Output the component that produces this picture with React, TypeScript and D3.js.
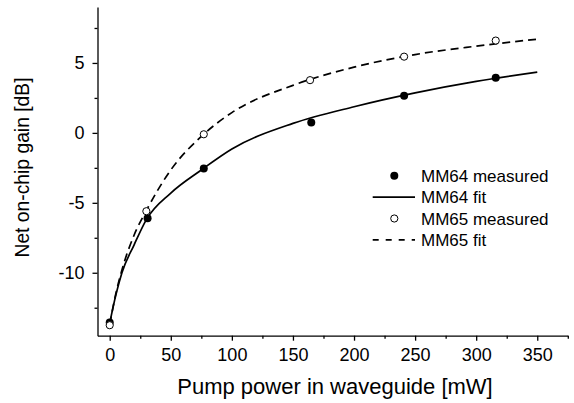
import { useEffect, useRef } from 'react';
import * as d3 from 'd3';

// measured points
const mm64Power = [0, 31, 77, 165, 241, 316];
const mm64Gain = [-13.55, -6.1, -2.55, 0.75, 2.65, 3.95];
const mm65Power = [0, 30, 77, 164, 241, 316];
const mm65Gain = [-13.75, -5.6, -0.1, 3.77, 5.45, 6.6];

// fit curves
const fitPower = [0, 5, 10, 20, 30, 50, 75, 100, 150, 200, 250, 300, 350];
const mm64Fit = [-13.6, -11.6, -10.0, -8.0, -6.2, -4.3, -2.65, -1.15, 0.68, 1.87, 2.86, 3.68, 4.34];
const mm65Fit = [-13.7, -11.5, -9.8, -7.3, -5.55, -2.65, -0.25, 1.45, 3.4, 4.7, 5.6, 6.2, 6.7];

const xTicks = [0, 50, 100, 150, 200, 250, 300, 350];
const yTicks = [-10, -5, 0, 5];

const legendLabels = ['MM64 measured', 'MM64 fit', 'MM65 measured', 'MM65 fit'];

const FONT = '"Liberation Sans", Arial, sans-serif';

const App = () => {
    const svgRef = useRef<SVGSVGElement>(null);

    useEffect(() => {
        const svg = d3.select(svgRef.current);
        svg.selectAll('*').remove();

        const x = d3.scaleLinear().domain([-10, 375]).range([97.5, 567.8]);
        const y = d3.scaleLinear().domain([-14.5, 9]).range([335.7, 7]);

        // Axes (plain hyphen for minus, like the original)
        const xAxis = svg.append('g')
            .attr('transform', `translate(0,${y(-14.5)})`)
            .call(d3.axisBottom(x).tickValues(xTicks).tickSize(5).tickSizeOuter(0).tickPadding(8)
                .tickFormat(d => String(d)));
        xAxis.append('g')
            .call(d3.axisBottom(x).tickValues(d3.range(25, 376, 50)).tickSize(3).tickFormat(() => '').tickSizeOuter(0))
            .select('.domain').remove();

        const yAxis = svg.append('g')
            .attr('transform', `translate(${x(-10)},0)`)
            .call(d3.axisLeft(y).tickValues(yTicks).tickSize(5).tickSizeOuter(0).tickPadding(8)
                .tickFormat(d => String(d)));
        yAxis.append('g')
            .call(d3.axisLeft(y).tickValues([-12.5, -7.5, -2.5, 2.5, 7.5]).tickSize(3).tickFormat(() => '').tickSizeOuter(0))
            .select('.domain').remove();

        svg.selectAll('.domain, .tick line').attr('stroke', '#000').attr('stroke-width', 1.3);
        svg.selectAll('.tick text')
            .attr('fill', '#000')
            .style('font-family', FONT)
            .style('font-size', '18px');

        // Axis titles
        svg.append('text')
            .attr('x', 335)
            .attr('y', 394)
            .attr('text-anchor', 'middle')
            .style('font-family', FONT)
            .style('font-size', '22px')
            .attr('fill', '#000')
            .text('Pump power in waveguide [mW]');

        svg.append('text')
            .attr('transform', 'translate(29,167.5) rotate(-90)')
            .attr('text-anchor', 'middle')
            .style('font-family', FONT)
            .style('font-size', '19.3px')
            .attr('fill', '#000')
            .text('Net on-chip gain [dB]');

        // Fit lines
        const line = d3.line<[number, number]>()
            .x(d => x(d[0]))
            .y(d => y(d[1]))
            .curve(d3.curveMonotoneX);

        svg.append('path')
            .datum(fitPower.map((p, i) => [p, mm65Fit[i]] as [number, number]))
            .attr('fill', 'none')
            .attr('stroke', '#000')
            .attr('stroke-width', 1.7)
            .attr('stroke-dasharray', '8,5')
            .attr('d', line);

        svg.append('path')
            .datum(fitPower.map((p, i) => [p, mm64Fit[i]] as [number, number]))
            .attr('fill', 'none')
            .attr('stroke', '#000')
            .attr('stroke-width', 1.7)
            .attr('d', line);

        // Measured points
        svg.append('g').selectAll('circle')
            .data(mm64Power.map((p, i) => [p, mm64Gain[i]]))
            .join('circle')
            .attr('cx', d => x(d[0]))
            .attr('cy', d => y(d[1]))
            .attr('r', 4)
            .attr('fill', '#000');

        svg.append('g').selectAll('circle')
            .data(mm65Power.map((p, i) => [p, mm65Gain[i]]))
            .join('circle')
            .attr('cx', d => x(d[0]))
            .attr('cy', d => y(d[1]))
            .attr('r', 3.6)
            .attr('fill', '#fff')
            .attr('stroke', '#000')
            .attr('stroke-width', 1);

        // Legend
        const legend = svg.append('g');
        const rowY = (i: number) => 175.7 + i * 21.4;
        legend.append('circle').attr('cx', 394.3).attr('cy', rowY(0)).attr('r', 4).attr('fill', '#000');
        legend.append('line').attr('x1', 372.7).attr('x2', 415).attr('y1', rowY(1)).attr('y2', rowY(1))
            .attr('stroke', '#000').attr('stroke-width', 1.7);
        legend.append('circle').attr('cx', 394.3).attr('cy', rowY(2)).attr('r', 3.6)
            .attr('fill', '#fff').attr('stroke', '#000').attr('stroke-width', 1);
        legend.append('line').attr('x1', 372.7).attr('x2', 415).attr('y1', rowY(3)).attr('y2', rowY(3))
            .attr('stroke', '#000').attr('stroke-width', 1.7).attr('stroke-dasharray', '6,7');

        legend.selectAll('text')
            .data(legendLabels)
            .join('text')
            .attr('x', 421)
            .attr('y', (d, i) => rowY(i))
            .attr('dy', '0.36em')
            .style('font-family', FONT)
            .style('font-size', '17px')
            .attr('fill', '#000')
            .text(d => d);
    }, []);

    return (
        <svg
            ref={svgRef}
            width={574}
            height={403}
            style={{ position: 'absolute', left: 0, top: 0, background: '#fff' }}
        />
    );
};

export default App;
